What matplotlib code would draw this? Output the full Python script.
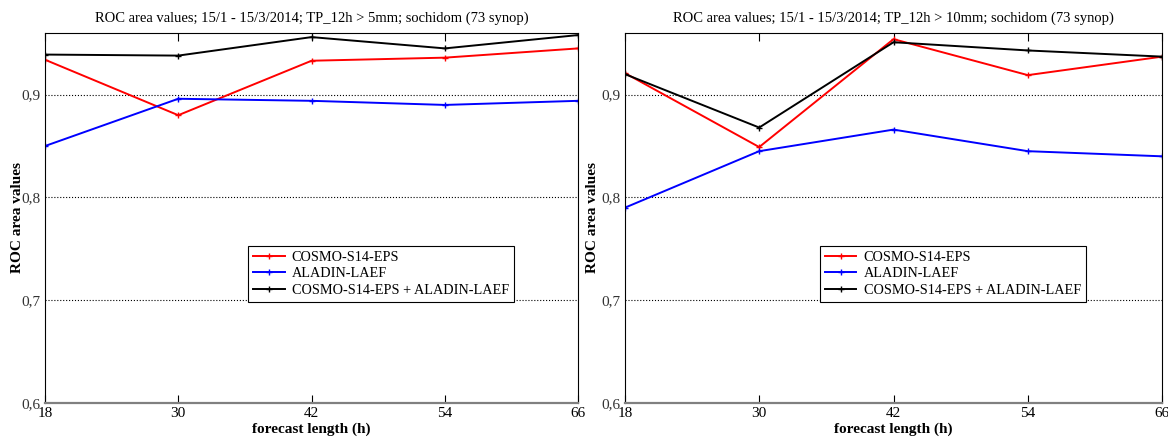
import matplotlib.pyplot as plt
import matplotlib.ticker as mticker
import numpy as np

plt.rcParams["font.family"] = ["Liberation Serif", "DejaVu Serif"]
plt.rcParams["font.size"] = 11

hours = [18, 30, 42, 54, 66]
series_names = ['COSMO-S14-EPS', 'ALADIN-LAEF', 'COSMO-S14-EPS + ALADIN-LAEF']
colors = ['red', 'blue', 'black']

# threshold 5mm
cosmo_5 = [0.934, 0.880, 0.933, 0.936, 0.945]
aladin_5 = [0.850, 0.896, 0.894, 0.890, 0.894]
combo_5 = [0.939, 0.938, 0.956, 0.945, 0.958]

# threshold 10mm
cosmo_10 = [0.921, 0.849, 0.954, 0.919, 0.937]
aladin_10 = [0.790, 0.845, 0.866, 0.845, 0.840]
combo_10 = [0.920, 0.868, 0.951, 0.943, 0.937]

titles = ['ROC area values; 15/1 - 15/3/2014; TP_12h > 5mm; sochidom (73 synop)',
          'ROC area values; 15/1 - 15/3/2014; TP_12h > 10mm; sochidom (73 synop)']

fig = plt.figure(figsize=(11.68, 4.41), dpi=100)
ax1 = fig.add_axes([0.0385, 0.0862, 0.4565, 0.839])
ax2 = fig.add_axes([0.535, 0.0862, 0.46, 0.839])

panels = [(ax1, [cosmo_5, aladin_5, combo_5], titles[0], (0.381, 0.273), -0.040),
          (ax2, [cosmo_10, aladin_10, combo_10], titles[1], (0.363, 0.273), -0.048)]

for ax, data, title, legpos, ylab_x in panels:
    for vals, name, c in zip(data, series_names, colors):
        ax.plot(hours, vals, color=c, lw=1.4, marker='+', ms=4, mew=1, label=name)
    ax.set_xlim(18, 66)
    ax.set_ylim(0.6, 0.96)
    ax.set_xticks(hours)
    ax.set_yticks([0.6, 0.7, 0.8, 0.9])
    ax.yaxis.set_major_formatter(mticker.FuncFormatter(lambda v, p: ('%.1f' % v).replace('.', ',')))
    ax.yaxis.grid(True, linestyle=':', color='black', lw=0.8)
    ax.tick_params(axis='x', direction='in', top=True, length=6, labelsize=11, pad=3)
    ax.tick_params(axis='y', length=0, labelsize=11, pad=3, labelcolor='#333333')
    ax.spines['bottom'].set_color('#808080')
    ax.spines['bottom'].set_linewidth(1.6)
    ax.set_title(title, fontsize=10.5, pad=8)
    ax.set_xlabel('forecast length (h)', fontweight='bold', labelpad=2)
    ax.set_ylabel('ROC area values', fontweight='bold')
    ax.yaxis.set_label_coords(ylab_x, 0.5)
    leg = ax.legend(loc=legpos, fancybox=False, edgecolor='black', framealpha=1,
                    handlelength=2.2, handletextpad=0.5, borderpad=0.35, labelspacing=0.25,
                    fontsize=10.3)
    leg.get_frame().set_linewidth(0.8)

plt.savefig('out.png', dpi=100)
